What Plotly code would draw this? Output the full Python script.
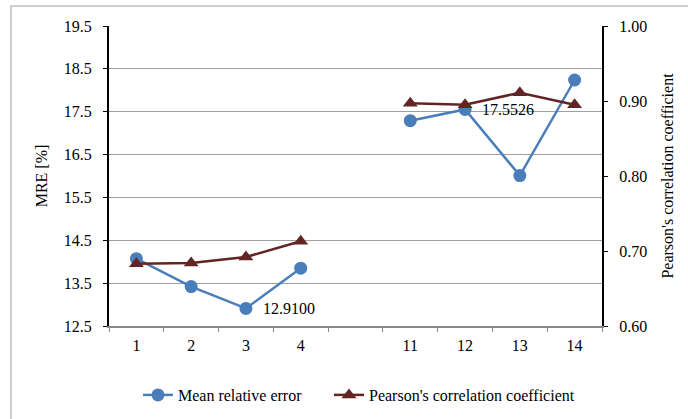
import plotly.graph_objects as go

categories = ["1", "2", "3", "4", " ", "11", "12", "13", "14"]
mre = [14.07, 13.42, 12.91, 13.85, None, 17.29, 17.5526, 16.01, 18.24]
pearson = [0.683, 0.684, 0.692, 0.713, None, 0.897, 0.895, 0.911, 0.895]
labelled_idx = [2, 6]

FONT = "Liberation Serif, Times New Roman, DejaVu Serif, serif"
BLUE = "#4A7EBB"
RED = "#632523"
FS = 16

fig = go.Figure()
fig.add_trace(go.Scatter(
    x=categories, y=mre, name="Mean relative error", mode="lines+markers",
    line=dict(color=BLUE, width=2.5), marker=dict(symbol="circle", size=13, color=BLUE),
    connectgaps=False, yaxis="y", legend="legend"))
fig.add_trace(go.Scatter(
    x=categories, y=pearson, name="Pearson's correlation coefficient", mode="lines+markers",
    line=dict(color=RED, width=2.5), marker=dict(symbol="triangle-up", size=13, color=RED),
    connectgaps=False, yaxis="y2", legend="legend2"))

for i in labelled_idx:
    fig.add_annotation(x=i, xref="x", y=mre[i], yref="y", text=f"{mre[i]:.4f}",
                       showarrow=False, xanchor="left", yanchor="middle", xshift=15,
                       font=dict(family=FONT, size=FS, color="#000"))

# outer chart border (top and left edges visible)
fig.add_shape(type="rect", xref="paper", yref="paper",
              x0=(11 - 109) / 493, x1=1.25, y0=-0.4, y1=(326 - 6) / 300,
              line=dict(color="#BFBFBF", width=1.5), fillcolor="rgba(0,0,0,0)", layer="below")

legend_common = dict(orientation="h", yref="container", y=1 - 395 / 419,
                     xanchor="left", yanchor="middle",
                     font=dict(family=FONT, size=FS), itemwidth=30,
                     bgcolor="rgba(0,0,0,0)")

fig.update_layout(
    width=688, height=419,
    margin=dict(l=109, r=86, t=26, b=93, autoexpand=False),
    paper_bgcolor="white", plot_bgcolor="white",
    font=dict(family=FONT, size=FS, color="#000"),
    showlegend=True,
    legend=dict(x=(138 - 109) / 493, **legend_common),
    legend2=dict(x=(329 - 109) / 493, **legend_common),
    xaxis=dict(type="category", categoryorder="array", categoryarray=categories,
               range=[-0.5, 8.5], showgrid=False, showline=True, linecolor="#888888", linewidth=1.5,
               ticks="outside", tickson="boundaries", ticklen=4, tickcolor="#888888",
               ticklabelstandoff=4, zeroline=False, fixedrange=True),
    yaxis=dict(range=[12.5, 19.5], tick0=12.5, dtick=1.0, tickformat=".1f",
               showgrid=True, gridcolor="#A0A0A0", gridwidth=1,
               showline=True, linecolor="#000", linewidth=2,
               ticks="outside", ticklen=4, tickcolor="#000", ticklabelstandoff=8,
               zeroline=False,
               title=dict(text="MRE [%]", standoff=12, font=dict(family=FONT, size=FS))),
    yaxis2=dict(range=[0.6, 1.0], tick0=0.6, dtick=0.1, tickformat=".2f",
                overlaying="y", side="right", showgrid=False,
                showline=True, linecolor="#000", linewidth=2,
                ticks="outside", ticklen=4, tickcolor="#000", ticklabelstandoff=8,
                zeroline=False,
                title=dict(text="Pearson's correlation coefficient", standoff=16,
                           font=dict(family=FONT, size=FS))),
)

fig.write_html("out.html")
